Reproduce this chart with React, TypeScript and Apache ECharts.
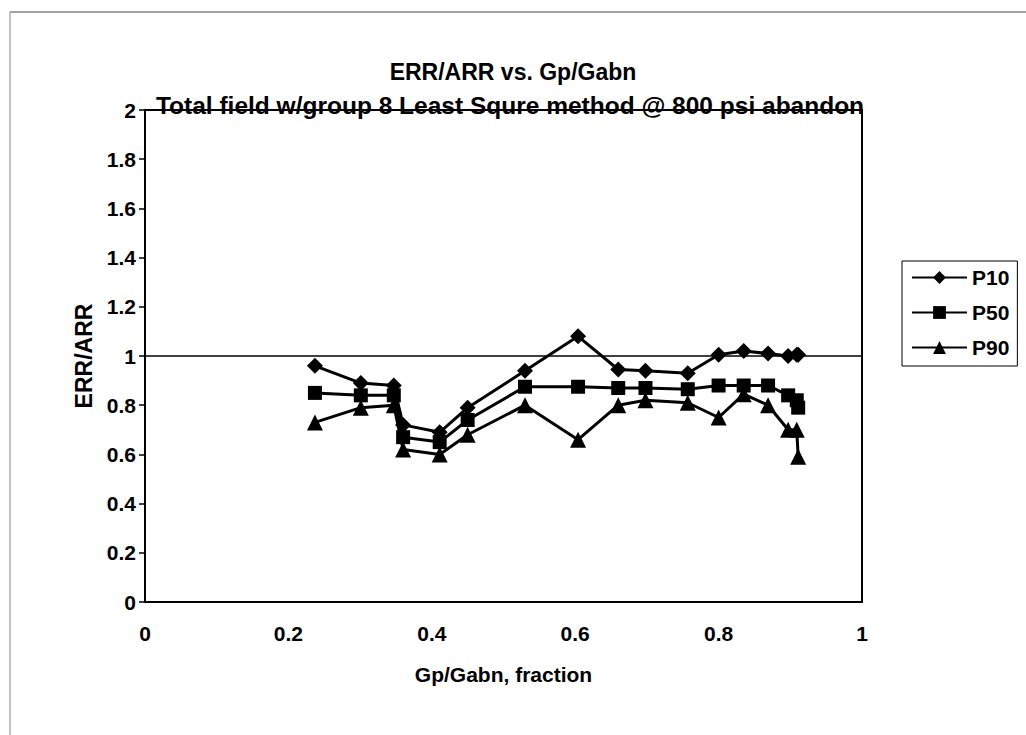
import React, { useEffect, useRef } from "react";
import * as echarts from "echarts";

const gpFraction = [0.237, 0.301, 0.347, 0.36, 0.411, 0.45, 0.53, 0.604, 0.66, 0.698, 0.757, 0.8, 0.835, 0.869, 0.897, 0.909, 0.911];
const p10 = [0.96, 0.89, 0.88, 0.72, 0.69, 0.79, 0.94, 1.08, 0.945, 0.94, 0.93, 1.005, 1.02, 1.01, 1.0, 1.005, 1.005];
const p50 = [0.85, 0.84, 0.84, 0.67, 0.65, 0.74, 0.875, 0.875, 0.87, 0.87, 0.865, 0.88, 0.88, 0.88, 0.84, 0.82, 0.79];
const p90 = [0.73, 0.79, 0.8, 0.62, 0.6, 0.68, 0.8, 0.66, 0.8, 0.82, 0.81, 0.75, 0.845, 0.8, 0.7, 0.7, 0.59];
const seriesNames = ["P10", "P50", "P90"];
const seriesSymbols = ["diamond", "rect", "triangle"];
const referenceLine = 1;

const titleText = "ERR/ARR vs. Gp/Gabn";
const subtitleText = "Total field w/group 8 Least Squre method @ 800 psi abandon";
const xAxisName = "Gp/Gabn, fraction";
const yAxisName = "ERR/ARR";

const FONT = "'Liberation Sans', Arial, sans-serif";

export default function App() {
  const ref = useRef<HTMLDivElement>(null);
  useEffect(() => {
    if (!ref.current) return;
    const chart = echarts.init(ref.current, null, { renderer: "svg" });
    const all = [p10, p50, p90];
    const sizes = [16, 14, 16];
    const series: any[] = all.map((vals, i) => ({
      name: seriesNames[i],
      type: "line",
      data: vals.map((v, j) => [gpFraction[j], v]),
      symbol: seriesSymbols[i],
      symbolSize: sizes[i],
      showAllSymbol: true,
      itemStyle: { color: "#000" },
      lineStyle: { color: "#000", width: 3 },
      z: 3,
    }));
    series[0].markLine = {
      silent: true,
      symbol: "none",
      label: { show: false },
      lineStyle: { color: "#000", width: 1.5, type: "solid" },
      data: [{ yAxis: referenceLine }],
    };
    chart.setOption({
      animation: false,
      backgroundColor: "#fff",
      textStyle: { fontFamily: FONT },
      title: [
        {
          text: titleText,
          left: 508,
          top: 55,
          textAlign: "center",
          textStyle: { fontFamily: FONT, fontSize: 23, fontWeight: "bold", color: "#000" },
        },
        {
          text: subtitleText,
          left: 505,
          top: 88,
          textAlign: "center",
          textStyle: { fontFamily: FONT, fontSize: 24.5, fontWeight: "bold", color: "#000" },
        },
      ],
      graphic: [
        { type: "line", shape: { x1: 10, y1: 12, x2: 1026, y2: 12 }, style: { stroke: "#444", lineWidth: 1 } },
        { type: "line", shape: { x1: 10, y1: 12, x2: 10, y2: 735 }, style: { stroke: "#888", lineWidth: 1 } },
      ],
      grid: {
        left: 145,
        right: 164,
        top: 110,
        bottom: 133,
        show: true,
        borderColor: "#000",
        borderWidth: 2,
        backgroundColor: "transparent",
      },
      legend: {
        data: seriesNames,
        orient: "vertical",
        left: 902,
        top: 261,
        itemWidth: 55,
        itemHeight: 16,
        itemGap: 14,
        padding: [6, 8, 8, 9],
        borderColor: "#000",
        borderWidth: 1,
        backgroundColor: "#fff",
        textStyle: { fontFamily: FONT, fontSize: 21, fontWeight: "bold", color: "#000" },
      },
      xAxis: {
        type: "value",
        min: 0,
        max: 1,
        interval: 0.2,
        name: xAxisName,
        nameLocation: "middle",
        nameGap: 62,
        nameTextStyle: { fontFamily: FONT, fontSize: 21, fontWeight: "bold", color: "#000" },
        axisLine: { onZero: false, lineStyle: { color: "#000", width: 2 } },
        axisTick: { show: false },
        axisLabel: { fontFamily: FONT, fontSize: 21, fontWeight: "bold", color: "#000", margin: 21 },
        splitLine: { show: false },
      },
      yAxis: {
        type: "value",
        min: 0,
        max: 2,
        interval: 0.2,
        name: yAxisName,
        nameLocation: "middle",
        nameGap: 46,
        nameTextStyle: { fontFamily: FONT, fontSize: 23, fontWeight: "bold", color: "#000" },
        axisLine: { show: true, lineStyle: { color: "#000", width: 2 } },
        axisTick: { show: true, inside: false, length: 6, lineStyle: { color: "#000", width: 1.5 } },
        axisLabel: { fontFamily: FONT, fontSize: 21, fontWeight: "bold", color: "#000", margin: 9 },
        splitLine: { show: false },
      },
      series,
    });
    return () => chart.dispose();
  }, []);
  return <div ref={ref} style={{ width: 1026, height: 735, position: "absolute", left: 0, top: 0 }} />;
}
